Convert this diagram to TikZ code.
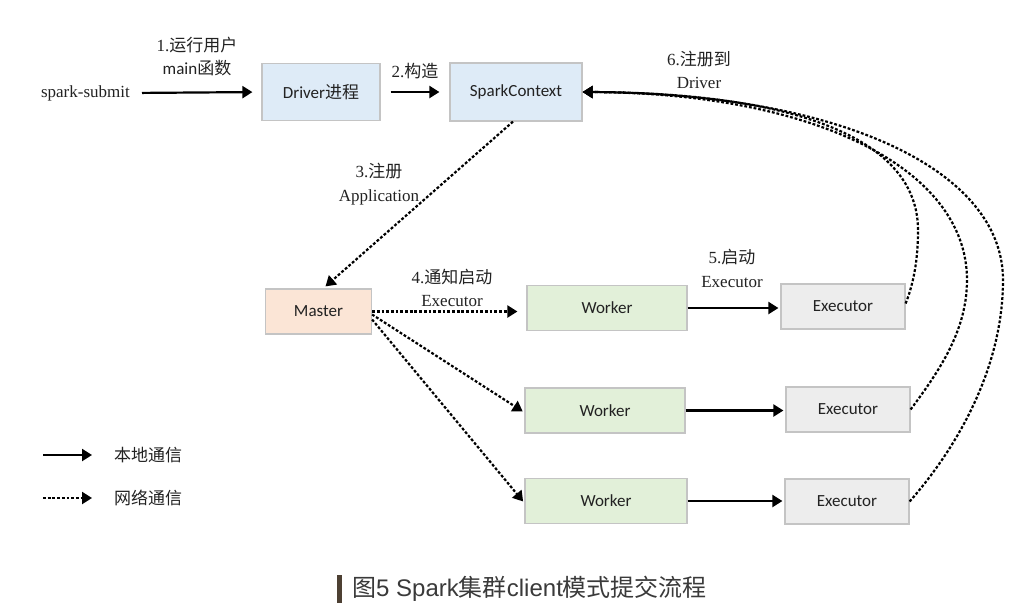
\documentclass[tikz,border=0pt]{standalone}
\usepackage{fontspec}
\setmainfont{Liberation Serif}
\newfontfamily\cjk{Noto Sans CJK SC}
\newfontfamily\boxf{Carlito}
\newfontfamily\capf{Liberation Sans}
\usetikzlibrary{arrows.meta}
\newcommand\zh[1]{{\cjk #1}}
\definecolor{blueF}{HTML}{DEEBF7}
\definecolor{orangeF}{HTML}{FBE5D6}
\definecolor{greenF}{HTML}{E2F0D9}
\definecolor{grayF}{HTML}{EDEDED}
\definecolor{boxB}{HTML}{C4C4C4}
\definecolor{capbar}{HTML}{4D4033}
\definecolor{captext}{HTML}{3A3A3A}
\definecolor{lbl}{HTML}{222222}
\begin{document}
\begin{tikzpicture}[x=1pt,y=-1pt,
  box/.style={draw=boxB, line width=1.2pt, inner sep=0pt, text=lbl,
    font=\boxf\fontsize{17}{19}\selectfont},
  tipstyle/.style={-{Triangle[length=10pt,width=12pt]}},
  loc/.style={tipstyle, line width=2.2pt, draw=black},
  net/.style={tipstyle, line width=2.2pt, draw=black, dash pattern=on 2.8pt off 1.9pt},
  lab/.style={font=\fontsize{17}{23.5}\selectfont, align=center, inner sep=0pt, text=lbl},
  leg/.style={font=\cjk\fontsize{17}{19}\selectfont, inner sep=0pt, anchor=west, text=lbl}]
\useasboundingbox (0,0) rectangle (1034,614);
\fill[white] (0,0) rectangle (1034,614);

% boxes
\node[box, fill=blueF, minimum width=118pt, minimum height=57pt] (drv) at (321,92) {Driver\zh{进程}};
\node[box, fill=blueF, minimum width=132pt, minimum height=58pt] (sc) at (516,92) {SparkContext};
\node[box, fill=orangeF, minimum width=106pt, minimum height=45pt] (ms) at (318.5,311.5) {Master};
\node[box, fill=greenF, minimum width=160pt, minimum height=45pt] (w1) at (607,308) {Worker};
\node[box, fill=grayF, minimum width=124pt, minimum height=45pt] (e1) at (843,306.5) {Executor};
\node[box, fill=greenF, minimum width=160pt, minimum height=45pt] (w2) at (605,410.5) {Worker};
\node[box, fill=grayF, minimum width=124pt, minimum height=45pt] (e2) at (848,409.5) {Executor};
\node[box, fill=greenF, minimum width=162pt, minimum height=45pt] (w3) at (606,501) {Worker};
\node[box, fill=grayF, minimum width=124pt, minimum height=45pt] (e3) at (847,501.5) {Executor};

% labels
\node[lab, anchor=east] (ss) at (130,93) {spark-submit};
\node[lab] (l1) at (197,56.5) {1.\zh{运行用户}\\{\boxf main}\zh{函数}};
\node[lab] (l2) at (415,71) {2.\zh{构造}};
\node[lab] (l3) at (379,184) {3.\zh{注册}\\Application};
\node[lab] (l4) at (452,288) {4.\zh{通知启动}\\Executor};
\node[lab] (l5) at (732,268.5) {5.\zh{启动}\\Executor};
\node[lab] (l6) at (699,70) {6.\zh{注册到}\\Driver};

% local arrows
\draw[loc, shorten <=12pt, shorten >=9pt] (ss.east) -- (drv.west);
\draw[loc, shorten <=10pt, shorten >=10pt] (drv.east) -- (sc.west);
\draw[loc, shorten >=2pt] (w1.east) -- (w1.east -| e1.west);
\draw[loc, shorten >=2pt] (w2.east) -- (w2.east -| e2.west);
\draw[loc, shorten >=2pt] (w3.east) -- (w3.east -| e3.west);

% network arrows
\draw[net] ([xshift=-3pt]sc.south) -- ([xshift=7pt,yshift=2pt]ms.north);
\draw[net, shorten >=9pt] (ms.east) -- (ms.east -| w1.west);
\draw[net, shorten >=2pt] ([yshift=-3pt]ms.east) -- ([yshift=-2pt]w2.west);
\draw[net, shorten >=2pt] ([yshift=-8pt]ms.east) -- ([yshift=-2pt]w3.west);

\draw[net] ([yshift=3pt]e1.east) .. controls (915,280) and (918,255) .. (918,230)
  .. controls (918,141) and (801,93) .. (sc.east);
\draw[net] (e2.east) .. controls (940,370) and (967,330) .. (967,280)
  .. controls (967,168) and (814,93) .. (sc.east);
\draw[net] (e3.east) .. controls (955,450) and (1003,370) .. (1003,280)
  .. controls (1003,168) and (836,93) .. (sc.east);

% legend
\node[leg] (t1) at (114,455) {本地通信};
\node[leg] (t2) at (114,498) {网络通信};
\coordinate (s1) at (43,455);
\coordinate (s2) at (43,498);
\draw[loc] (s1) -- ([xshift=-22pt]t1.west);
\draw[net] (s2) -- ([xshift=-22pt]t2.west);

% caption
\fill[capbar] (337,575) rectangle (342,603);
\node[anchor=west, inner sep=0pt, text=captext, font=\capf\fontsize{24}{26}\selectfont] (cap) at (352,589)
  {\zh{图}5 Spark\zh{集群}client\zh{模式提交流程}};
\end{tikzpicture}
\end{document}
